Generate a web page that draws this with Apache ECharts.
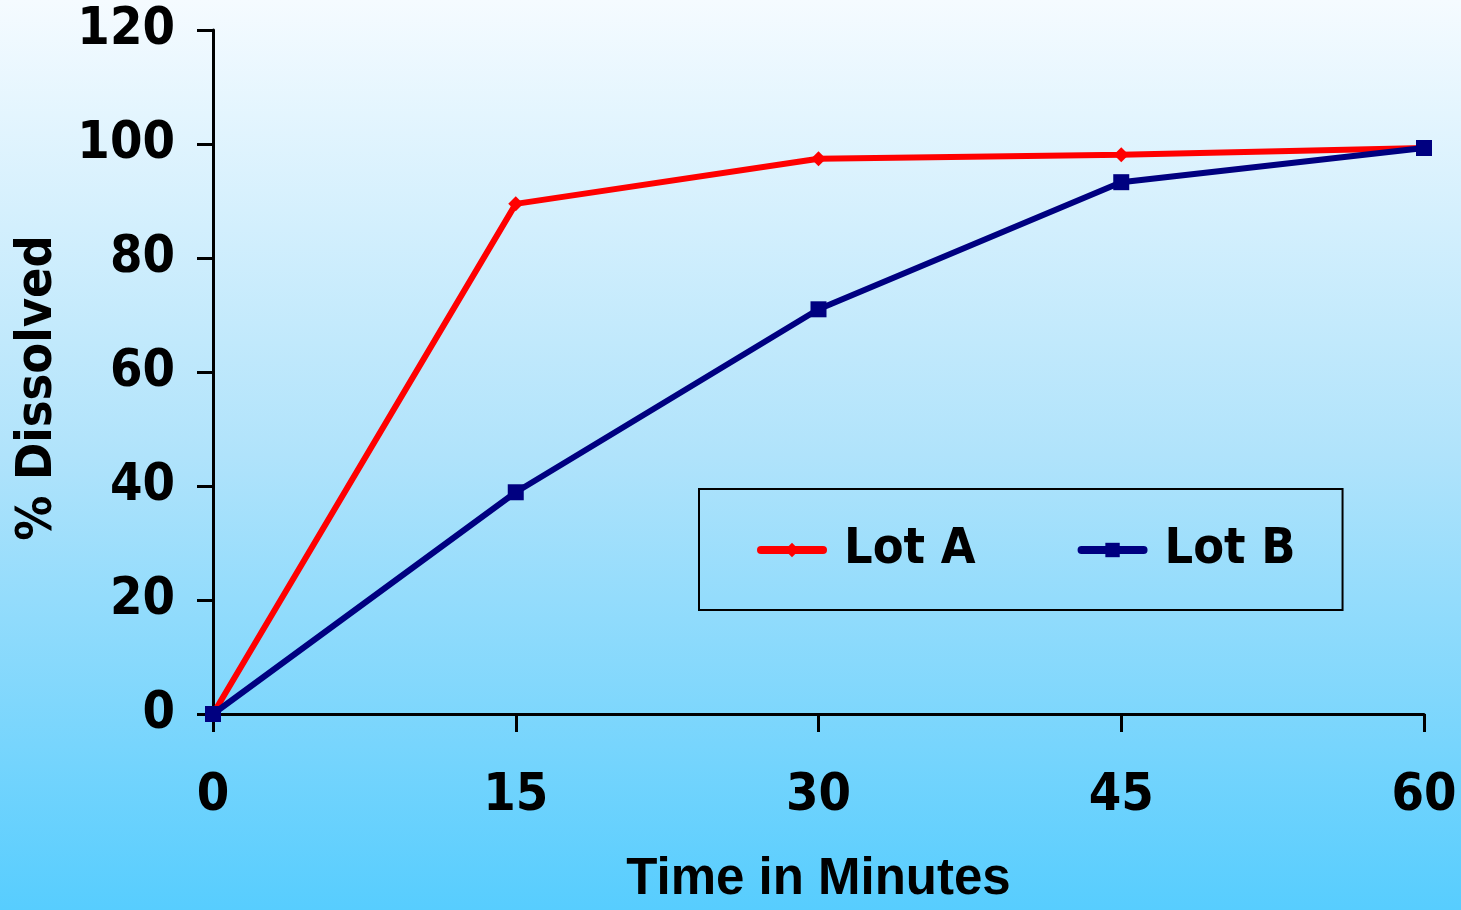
<!DOCTYPE html>
<html>
<head>
<meta charset="utf-8">
<script src="https://cdn.jsdelivr.net/npm/echarts@6/dist/echarts.min.js"></script>
<style>
  html, body { margin: 0; padding: 0; }
  #chart { width: 1461px; height: 910px; }
</style>
</head>
<body>
<div id="chart"></div>
<script>
// minutes
const times = [0, 15, 30, 45, 60];
// % dissolved
const lotA = [0, 89.5, 97.4, 98.1, 99.3];
const lotB = [0, 38.9, 71.0, 93.3, 99.3];
const yTicks = [0, 20, 40, 60, 80, 100, 120];

const chart = echarts.init(document.getElementById("chart"));

const tickFont = "'DejaVu Sans Condensed', 'DejaVu Sans', sans-serif";

const option = {
  backgroundColor: new echarts.graphic.LinearGradient(0, 0, 0, 1, [
    { offset: 0, color: "#f5fbff" },
    { offset: 0.5, color: "#b0e3fb" },
    { offset: 1, color: "#57cdfe" },
  ]),
  animation: false,
  grid: {
    left: 213,
    right: 37,
    top: 30,
    bottom: 196,
    outerBoundsMode: "none",
  },
  legend: {
    left: 699,
    top: 489,
    orient: "horizontal",
    borderColor: "#000",
    borderWidth: 2,
    padding: [36, 47, 35, 58],
    itemGap: 102,
    itemWidth: 62,
    itemHeight: 18,
    lineStyle: { width: 8, cap: "round" },
    textStyle: {
      fontFamily: tickFont,
      fontWeight: "bold",
      fontSize: 50,
      color: "#000",
      padding: [0, 0, 0, 16],
    },
    data: ["Lot A", "Lot B"],
  },
  xAxis: {
    type: "value",
    min: 0,
    max: 60,
    interval: 15,
    name: "Time in Minutes",
    nameLocation: "middle",
    nameGap: 140,
    nameTextStyle: {
      fontFamily: "'Liberation Sans', Arial, sans-serif",
      fontWeight: "bold",
      fontSize: 51,
      color: "#000",
    },
    axisLine: { show: true, onZero: false, lineStyle: { color: "#000", width: 3 } },
    axisTick: { show: true, length: 18, lineStyle: { color: "#000", width: 3 } },
    axisLabel: {
      margin: 56,
      fontFamily: tickFont,
      fontWeight: "bold",
      fontSize: 52,
      color: "#000",
      formatter: (v) => (times.includes(v) ? String(v) : ""),
    },
    splitLine: { show: false },
  },
  yAxis: {
    type: "value",
    min: yTicks[0],
    max: yTicks[yTicks.length - 1],
    interval: 20,
    name: "% Dissolved",
    nameLocation: "middle",
    nameRotate: 90,
    nameGap: 150,
    nameTextStyle: {
      fontFamily: tickFont,
      fontWeight: "bold",
      fontSize: 50,
      color: "#000",
      padding: [0, 32, 0, 0],
    },
    axisLine: { show: true, lineStyle: { color: "#000", width: 3 } },
    axisTick: { show: true, length: 16, lineStyle: { color: "#000", width: 3 } },
    axisLabel: {
      margin: 38,
      fontFamily: tickFont,
      fontWeight: "bold",
      fontSize: 52,
      color: "#000",
    },
    splitLine: { show: false },
  },
  series: [
    {
      name: "Lot A",
      type: "line",
      data: times.map((t, i) => [t, lotA[i]]),
      color: "#ff0000",
      lineStyle: { width: 6, color: "#ff0000" },
      symbol: "diamond",
      symbolSize: 15,
      itemStyle: { color: "#ff0000" },
      z: 2,
    },
    {
      name: "Lot B",
      type: "line",
      data: times.map((t, i) => [t, lotB[i]]),
      color: "#000080",
      lineStyle: { width: 6, color: "#000080" },
      symbol: "rect",
      symbolSize: 16,
      itemStyle: { color: "#000080" },
      z: 3,
    },
  ],
};

chart.setOption(option);
</script>
</body>
</html>
